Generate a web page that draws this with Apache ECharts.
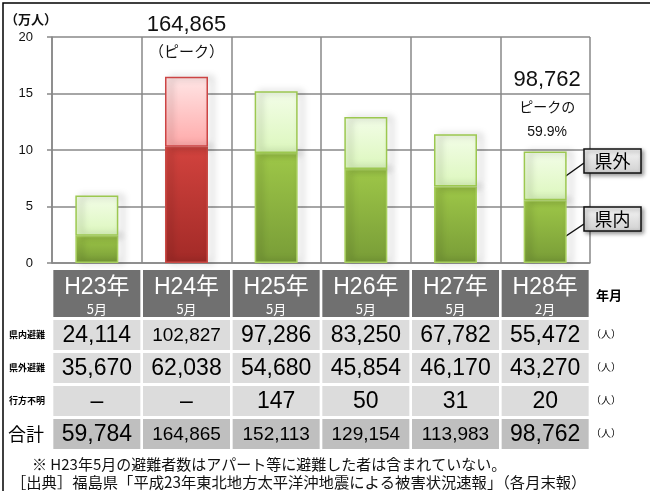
<!DOCTYPE html>
<html>
<head>
<meta charset="utf-8">
<script src="https://cdn.jsdelivr.net/npm/echarts@6/dist/echarts.min.js"></script>
<style>
  html, body { margin: 0; padding: 0; background: #fff; }
  #chart { width: 650px; height: 491px; }
</style>
</head>
<body>
<div id="chart"></div>
<script>
// 年月（ヘッダー）
const years = ['H23年', 'H24年', 'H25年', 'H26年', 'H27年', 'H28年'];
const months = ['5月', '5月', '5月', '5月', '5月', '2月'];
// 避難者数（人）
const inPref = [24114, 102827, 97286, 83250, 67782, 55472];
const outPref = [35670, 62038, 54680, 45854, 46170, 43270];
const missing = [null, null, 147, 50, 31, 20];
const totals = [59784, 164865, 152113, 129154, 113983, 98762];
const peakIndex = 1;
const lastIndex = 5;
const peakRatio = '59.9%';

const JP = '"Noto Sans CJK JP", sans-serif';
const NUM = '"Liberation Sans", Arial, sans-serif';

function grad(top, bottom) {
  return new echarts.graphic.LinearGradient(0, 0, 0, 1, [
    { offset: 0, color: top },
    { offset: 1, color: bottom }
  ]);
}
const shadow = { shadowBlur: 7, shadowColor: 'rgba(0,0,0,0.4)', shadowOffsetX: 5, shadowOffsetY: 0 };

const inData = inPref.map((v, i) => ({
  value: v / 10000,
  itemStyle: i === peakIndex
    ? Object.assign({ color: grad('#d2433e', '#a22a27'), borderColor: '#c94a45', borderWidth: 1.5 }, shadow)
    : Object.assign({ color: grad('#9ec748', '#789c37'), borderColor: '#a8cf5e', borderWidth: 1.5 }, shadow)
}));
const outData = outPref.map((v, i) => ({
  value: v / 10000,
  itemStyle: i === peakIndex
    ? Object.assign({ color: grad('#ffe6e6', '#ffa9a9'), borderColor: '#cc4444', borderWidth: 1.5 }, shadow)
    : Object.assign({ color: grad('#f3fde8', '#dcf7bd'), borderColor: '#9cc850', borderWidth: 1.5 }, shadow)
}));

const myChart = echarts.init(document.getElementById('chart'));
const option = {
  animation: false,
  grid: { left: 52, right: 60, top: 37, bottom: 228 },
  xAxis: {
    type: 'category',
    data: years,
    axisLine: { lineStyle: { color: '#888', width: 1.5 } },
    axisTick: { show: false },
    axisLabel: { show: false },
    splitLine: { show: true, lineStyle: { color: '#888', width: 1.5 } }
  },
  yAxis: {
    type: 'value',
    min: 0, max: 20, interval: 5,
    axisLine: { show: true, lineStyle: { color: '#888', width: 1.5 } },
    axisTick: { show: true, length: 5, lineStyle: { color: '#888', width: 1.5 } },
    axisLabel: { margin: 19, fontSize: 13, color: '#111', fontFamily: NUM },
    splitLine: { lineStyle: { color: '#888', width: 1.5 } }
  },
  series: [
    { name: '県内', type: 'bar', stack: 'a', barWidth: 43, data: inData },
    { name: '県外', type: 'bar', stack: 'a', barWidth: 43, data: outData }
  ]
};
myChart.setOption(option);

// 表・注記
const g = [];
const fmt = n => n.toLocaleString('en-US');
g.push({ type: 'rect', silent: true, shape: { x: 3, y: 3, width: 700, height: 600 }, style: { fill: 'none', stroke: '#000', lineWidth: 1.5 } });
g.push({ type: 'text', style: { x: 5, y: 19, text: '（万人）', font: 'bold 13px ' + JP, fill: '#111', verticalAlign: 'middle' } });

const rowY = [320, 353, 386, 419];
const rowNames = ['県内避難', '県外避難', '行方不明', '合計'];
years.forEach((y, i) => {
  const cx = myChart.convertToPixel({ xAxisIndex: 0 }, i);
  const x0 = cx - 43.5;
  g.push({ type: 'rect', shape: { x: x0, y: 270, width: 87, height: 47 }, style: { fill: '#707070' } });
  g.push({ type: 'text', style: { x: cx, y: 288, text: y, font: '23px "Liberation Sans", "Noto Sans CJK JP", sans-serif', fill: '#fff', align: 'center', verticalAlign: 'middle' } });
  g.push({ type: 'text', style: { x: cx, y: 309, text: months[i], font: '13px ' + JP, fill: '#fff', align: 'center', verticalAlign: 'middle' } });
  const vals = [fmt(inPref[i]), fmt(outPref[i]), missing[i] == null ? '–' : String(missing[i]), fmt(totals[i])];
  vals.forEach((t, r) => {
    g.push({ type: 'rect', shape: { x: x0, y: rowY[r], width: 87, height: 30 }, style: { fill: r === 3 ? '#bfbfbf' : '#dcdcdc' } });
    const small = t.length > 6;
    g.push({ type: 'text', style: { x: cx, y: rowY[r] + 16, text: t, font: (small ? '19px ' : '23px ') + NUM, fill: '#000', align: 'center', verticalAlign: 'middle' } });
  });
});
rowNames.forEach((n, r) => {
  const last = r === 3;
  g.push({ type: 'text', style: { x: last ? 26 : 27, y: rowY[r] + 15, text: n, font: last ? '18px ' + JP : 'bold 9px ' + JP, fill: '#000', align: 'center', verticalAlign: 'middle' } });
  g.push({ type: 'text', style: { x: 606, y: rowY[r] + 14, text: '（人）', font: '10px ' + JP, fill: '#000', align: 'center', verticalAlign: 'middle' } });
});
g.push({ type: 'text', style: { x: 609, y: 295, text: '年月', font: 'bold 13px ' + JP, fill: '#000', align: 'center', verticalAlign: 'middle' } });

// ピーク注記
const px = myChart.convertToPixel({ xAxisIndex: 0 }, peakIndex);
g.push({ type: 'text', style: { x: px, y: 25, text: fmt(totals[peakIndex]), font: '22px ' + NUM, fill: '#111', align: 'center', verticalAlign: 'middle' } });
g.push({ type: 'text', style: { x: px, y: 51, text: '（ピーク）', font: '15px ' + JP, fill: '#111', align: 'center', verticalAlign: 'middle' } });
const lx = myChart.convertToPixel({ xAxisIndex: 0 }, lastIndex) + 2;
g.push({ type: 'text', style: { x: lx, y: 80, text: fmt(totals[lastIndex]), font: '22px ' + NUM, fill: '#111', align: 'center', verticalAlign: 'middle' } });
g.push({ type: 'text', style: { x: lx, y: 107, text: 'ピークの', font: '14px ' + JP, fill: '#111', align: 'center', verticalAlign: 'middle' } });
g.push({ type: 'text', style: { x: lx, y: 132, text: peakRatio, font: '14px ' + NUM, fill: '#111', align: 'center', verticalAlign: 'middle' } });

// 凡例の吹き出し
[['県外', 149, [563, 178, 584, 163]], ['県内', 207, [563, 238, 584, 224]]].forEach(([t, y, l]) => {
  g.push({ type: 'line', shape: { x1: l[0], y1: l[1], x2: l[2], y2: l[3] }, style: { stroke: '#111', lineWidth: 1.5 } });
  g.push({ type: 'rect', shape: { x: 584, y: y, width: 57, height: 24 }, style: { fill: grad('#f7f7f7', '#cfcfcf'), stroke: '#111', lineWidth: 1.5, shadowBlur: 4, shadowColor: 'rgba(0,0,0,0.4)', shadowOffsetX: 2, shadowOffsetY: 2 } });
  g.push({ type: 'text', style: { x: 612.5, y: y + 12, text: t, font: '18px ' + JP, fill: '#000', align: 'center', verticalAlign: 'middle' } });
});

g.push({ type: 'text', style: { x: 32, y: 464, text: '※ H23年5月の避難者数はアパート等に避難した者は含まれていない。', font: '15px ' + JP, fill: '#111', verticalAlign: 'middle' } });
g.push({ type: 'text', style: { x: 11, y: 482, text: '［出典］福島県「平成23年東北地方太平洋沖地震による被害状況速報」（各月末報）', font: '15.3px ' + JP, fill: '#111', verticalAlign: 'middle' } });

myChart.setOption({ graphic: g });
</script>
</body>
</html>
